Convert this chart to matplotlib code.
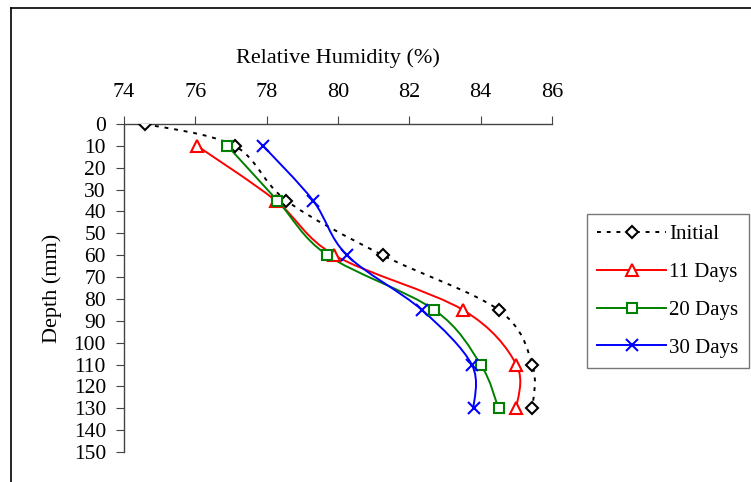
import numpy as np
import matplotlib
matplotlib.use('Agg')
import matplotlib.pyplot as plt
from matplotlib.path import Path
from matplotlib.patches import PathPatch
from matplotlib.lines import Line2D

plt.rcParams['font.family'] = ['Liberation Serif', 'DejaVu Serif']

# ______ data ______
depth_initial = [0, 10, 35, 60, 85, 110, 130]
rh_initial = [74.6, 77.1, 78.55, 81.25, 84.5, 85.45, 85.45]

depth_days = [10, 35, 60, 85, 110, 130]
rh_11 = [76.05, 78.25, 79.9, 83.5, 85.0, 85.0]
rh_20 = [76.9, 78.3, 79.7, 82.7, 84.0, 84.5]
rh_30 = [77.9, 79.3, 80.25, 82.35, 83.75, 83.8]

series = [
    ('Initial', rh_initial, depth_initial, 'black', (0, (2, 3)), 'D', 6.5),
    ('11 Days', rh_11, depth_days, 'red', '-', '^', 8.5),
    ('20 Days', rh_20, depth_days, 'green', '-', 's', 7),
    ('30 Days', rh_30, depth_days, 'blue', '-', 'x', 8.5),
]


def smooth_path(xs, ys):
    # excel-like smoothed line: catmull-rom segments as cubic beziers
    pts = np.column_stack([xs, ys]).astype(float)
    n = len(pts)
    verts = [pts[0]]
    codes = [Path.MOVETO]
    for i in range(n - 1):
        p0 = pts[i - 1] if i > 0 else pts[i]
        p1 = pts[i]
        p2 = pts[i + 1]
        p3 = pts[i + 2] if i + 2 < n else pts[i + 1]
        c1 = p1 + (p2 - p0) / 6.0
        c2 = p2 - (p3 - p1) / 6.0
        verts += [c1, c2, p2]
        codes += [Path.CURVE4] * 3
    return Path(verts, codes)


fig = plt.figure(figsize=(7.51, 4.82), dpi=100)
ax = fig.add_axes([124 / 751, 30 / 482, 428 / 751, 328 / 482])

handles = []
for label, xs, ys, col, ls, mk, ms in series:
    patch = PathPatch(smooth_path(xs, ys), facecolor='none', edgecolor=col,
                      linestyle=ls, linewidth=1.4, transform=ax.transData, zorder=2)
    ax.add_patch(patch)
    mfc = col if mk == 'x' else 'white'
    ax.plot(xs, ys, linestyle='none', marker=mk, markersize=ms, markerfacecolor=mfc,
            markeredgecolor=col, markeredgewidth=1.5, zorder=3)
    handles.append(Line2D([], [], color=col, linestyle=ls, linewidth=1.4, marker=mk,
                          markersize=ms, markerfacecolor=mfc, markeredgecolor=col,
                          markeredgewidth=1.5, label=label))

ax.set_xlim(74, 86)
ax.set_ylim(150, 0)
ax.set_xticks(np.arange(74, 87, 2))
ax.set_yticks(np.arange(0, 151, 10))
ax.xaxis.tick_top()
ax.xaxis.set_label_position('top')
ax.spines['bottom'].set_visible(False)
ax.spines['right'].set_visible(False)
for s in ['top', 'left']:
    ax.spines[s].set_color('#444444')
    ax.spines[s].set_linewidth(1.0)
ax.tick_params(axis='x', labelsize=16, length=6, pad=10, color='#444444')
ax.tick_params(axis='y', labelsize=15.5, length=6, pad=7, color='#444444')
ax.set_xlabel('Relative Humidity (%)', fontsize=16, labelpad=14)
ax.set_ylabel('Depth (mm)', fontsize=16, labelpad=8)

leg = fig.legend(handles=handles, loc='upper left', bbox_to_anchor=(587 / 751, 1 - 214 / 482),
                 fontsize=15, frameon=True, fancybox=False, handlelength=3.3,
                 handletextpad=0.15, labelspacing=0.88, borderpad=0.5, borderaxespad=0)
leg.get_frame().set_edgecolor('#555555')
leg.get_frame().set_linewidth(1.0)

# outer chart border (left and top visible)
fig.add_artist(Line2D([11 / 751, 11 / 751], [0, 1 - 8 / 482], color='black', linewidth=1.2,
                      transform=fig.transFigure))
fig.add_artist(Line2D([11 / 751, 1], [1 - 8 / 482, 1 - 8 / 482], color='black', linewidth=1.2,
                      transform=fig.transFigure))

fig.savefig('out.png', dpi=100)
